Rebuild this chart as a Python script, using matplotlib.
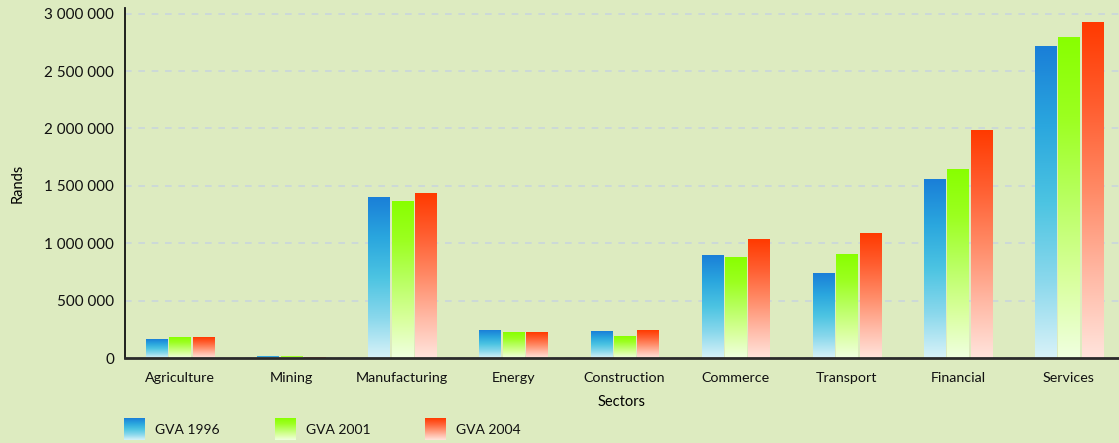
import numpy as np
import matplotlib
matplotlib.use('Agg')
import matplotlib.pyplot as plt
from matplotlib.colors import LinearSegmentedColormap

# data
sectors = ['Agriculture', 'Mining', 'Manufacturing', 'Energy', 'Construction',
           'Commerce', 'Transport', 'Financial', 'Services']
gva_1996 = [165000, 15000, 1395000, 244000, 227000, 890000, 738000, 1552000, 2711000]
gva_2001 = [175000, 10000, 1360000, 218000, 190000, 880000, 898000, 1639000, 2793000]
gva_2004 = [175000, 5000, 1430000, 218000, 244000, 1030000, 1087000, 1979000, 2927000]
series_labels = ['GVA 1996', 'GVA 2001', 'GVA 2004']

BG = '#ddebc0'
plt.rcParams['font.family'] = ['Lato', 'DejaVu Sans']

# bottom -> top gradients
cmaps = [
    LinearSegmentedColormap.from_list('b', ['#d8f2f8', '#8ad8ec', '#4cc4e2', '#2aa6de', '#1a7fd8']),
    LinearSegmentedColormap.from_list('g', ['#f0ffe0', '#d8ff9c', '#b8ff60', '#9cff20', '#88ff00']),
    LinearSegmentedColormap.from_list('r', ['#ffe4dc', '#ffb8a4', '#ff8a66', '#ff5e30', '#ff3a00']),
]
grad = np.linspace(0, 1, 256).reshape(-1, 1)


def gradient_bar(ax, x0, x1, y0, y1, cmap):
    ax.imshow(grad, cmap=cmap, origin='lower', aspect='auto',
              extent=(x0, x1, y0, y1), interpolation='bilinear', zorder=3)


fig = plt.figure(figsize=(11.19, 4.43), dpi=100, facecolor=BG)
ax = fig.add_axes([125 / 1119, 1 - 358 / 443, 994 / 1119, 350 / 443])
ax.set_facecolor(BG)

x = np.arange(len(sectors))
width = 0.19
step = 0.21
for i, vals in enumerate([gva_1996, gva_2001, gva_2004]):
    for xi, v in zip(x, vals):
        c = xi + (i - 1) * step
        gradient_bar(ax, c - width / 2, c + width / 2, 0, v, cmaps[i])

ax.set_xlim(-0.495, 8.45)
ax.set_ylim(0, 3050000)
yt = np.arange(0, 3000001, 500000)
ax.set_yticks(yt)
ax.set_yticklabels([f'{int(v):,}'.replace(',', ' ') for v in yt])
ax.set_xticks(x)
ax.set_xticklabels(sectors)
ax.tick_params(axis='y', labelsize=11, colors='#111111', length=0, pad=8)
ax.tick_params(axis='x', labelsize=10.3, colors='#111111', length=0, pad=10)
ax.yaxis.grid(True, linestyle=(0, (4, 4)), color='#c9d6dc', linewidth=1.2, zorder=1)
ax.set_axisbelow(True)
for side in ['top', 'right']:
    ax.spines[side].set_visible(False)
ax.spines['left'].set_color('#111111')
ax.spines['left'].set_linewidth(1.3)
ax.spines['bottom'].set_color('#2a2a2a')
ax.spines['bottom'].set_linewidth(2)
ax.spines['bottom'].set_zorder(5)

ax.set_xlabel('Sectors', fontsize=10.5, labelpad=8)
ax.set_ylabel('Rands', fontsize=10.5, labelpad=14)

# legend drawn along the bottom
lax = fig.add_axes([0, 0, 1, 1], facecolor='none')
lax.axis('off')
for i, (lx, lab) in enumerate(zip([124, 275, 425], series_labels)):
    lax.imshow(grad[::-1], cmap=cmaps[i], aspect='auto',
               extent=(lx, lx + 21, 440, 418), interpolation='bilinear')
    lax.text(lx + 31, 430, lab, fontsize=10, va='center', color='#111111')
lax.set_xlim(0, 1119)
lax.set_ylim(443, 0)

fig.savefig('out.png', dpi=100, facecolor=BG)
